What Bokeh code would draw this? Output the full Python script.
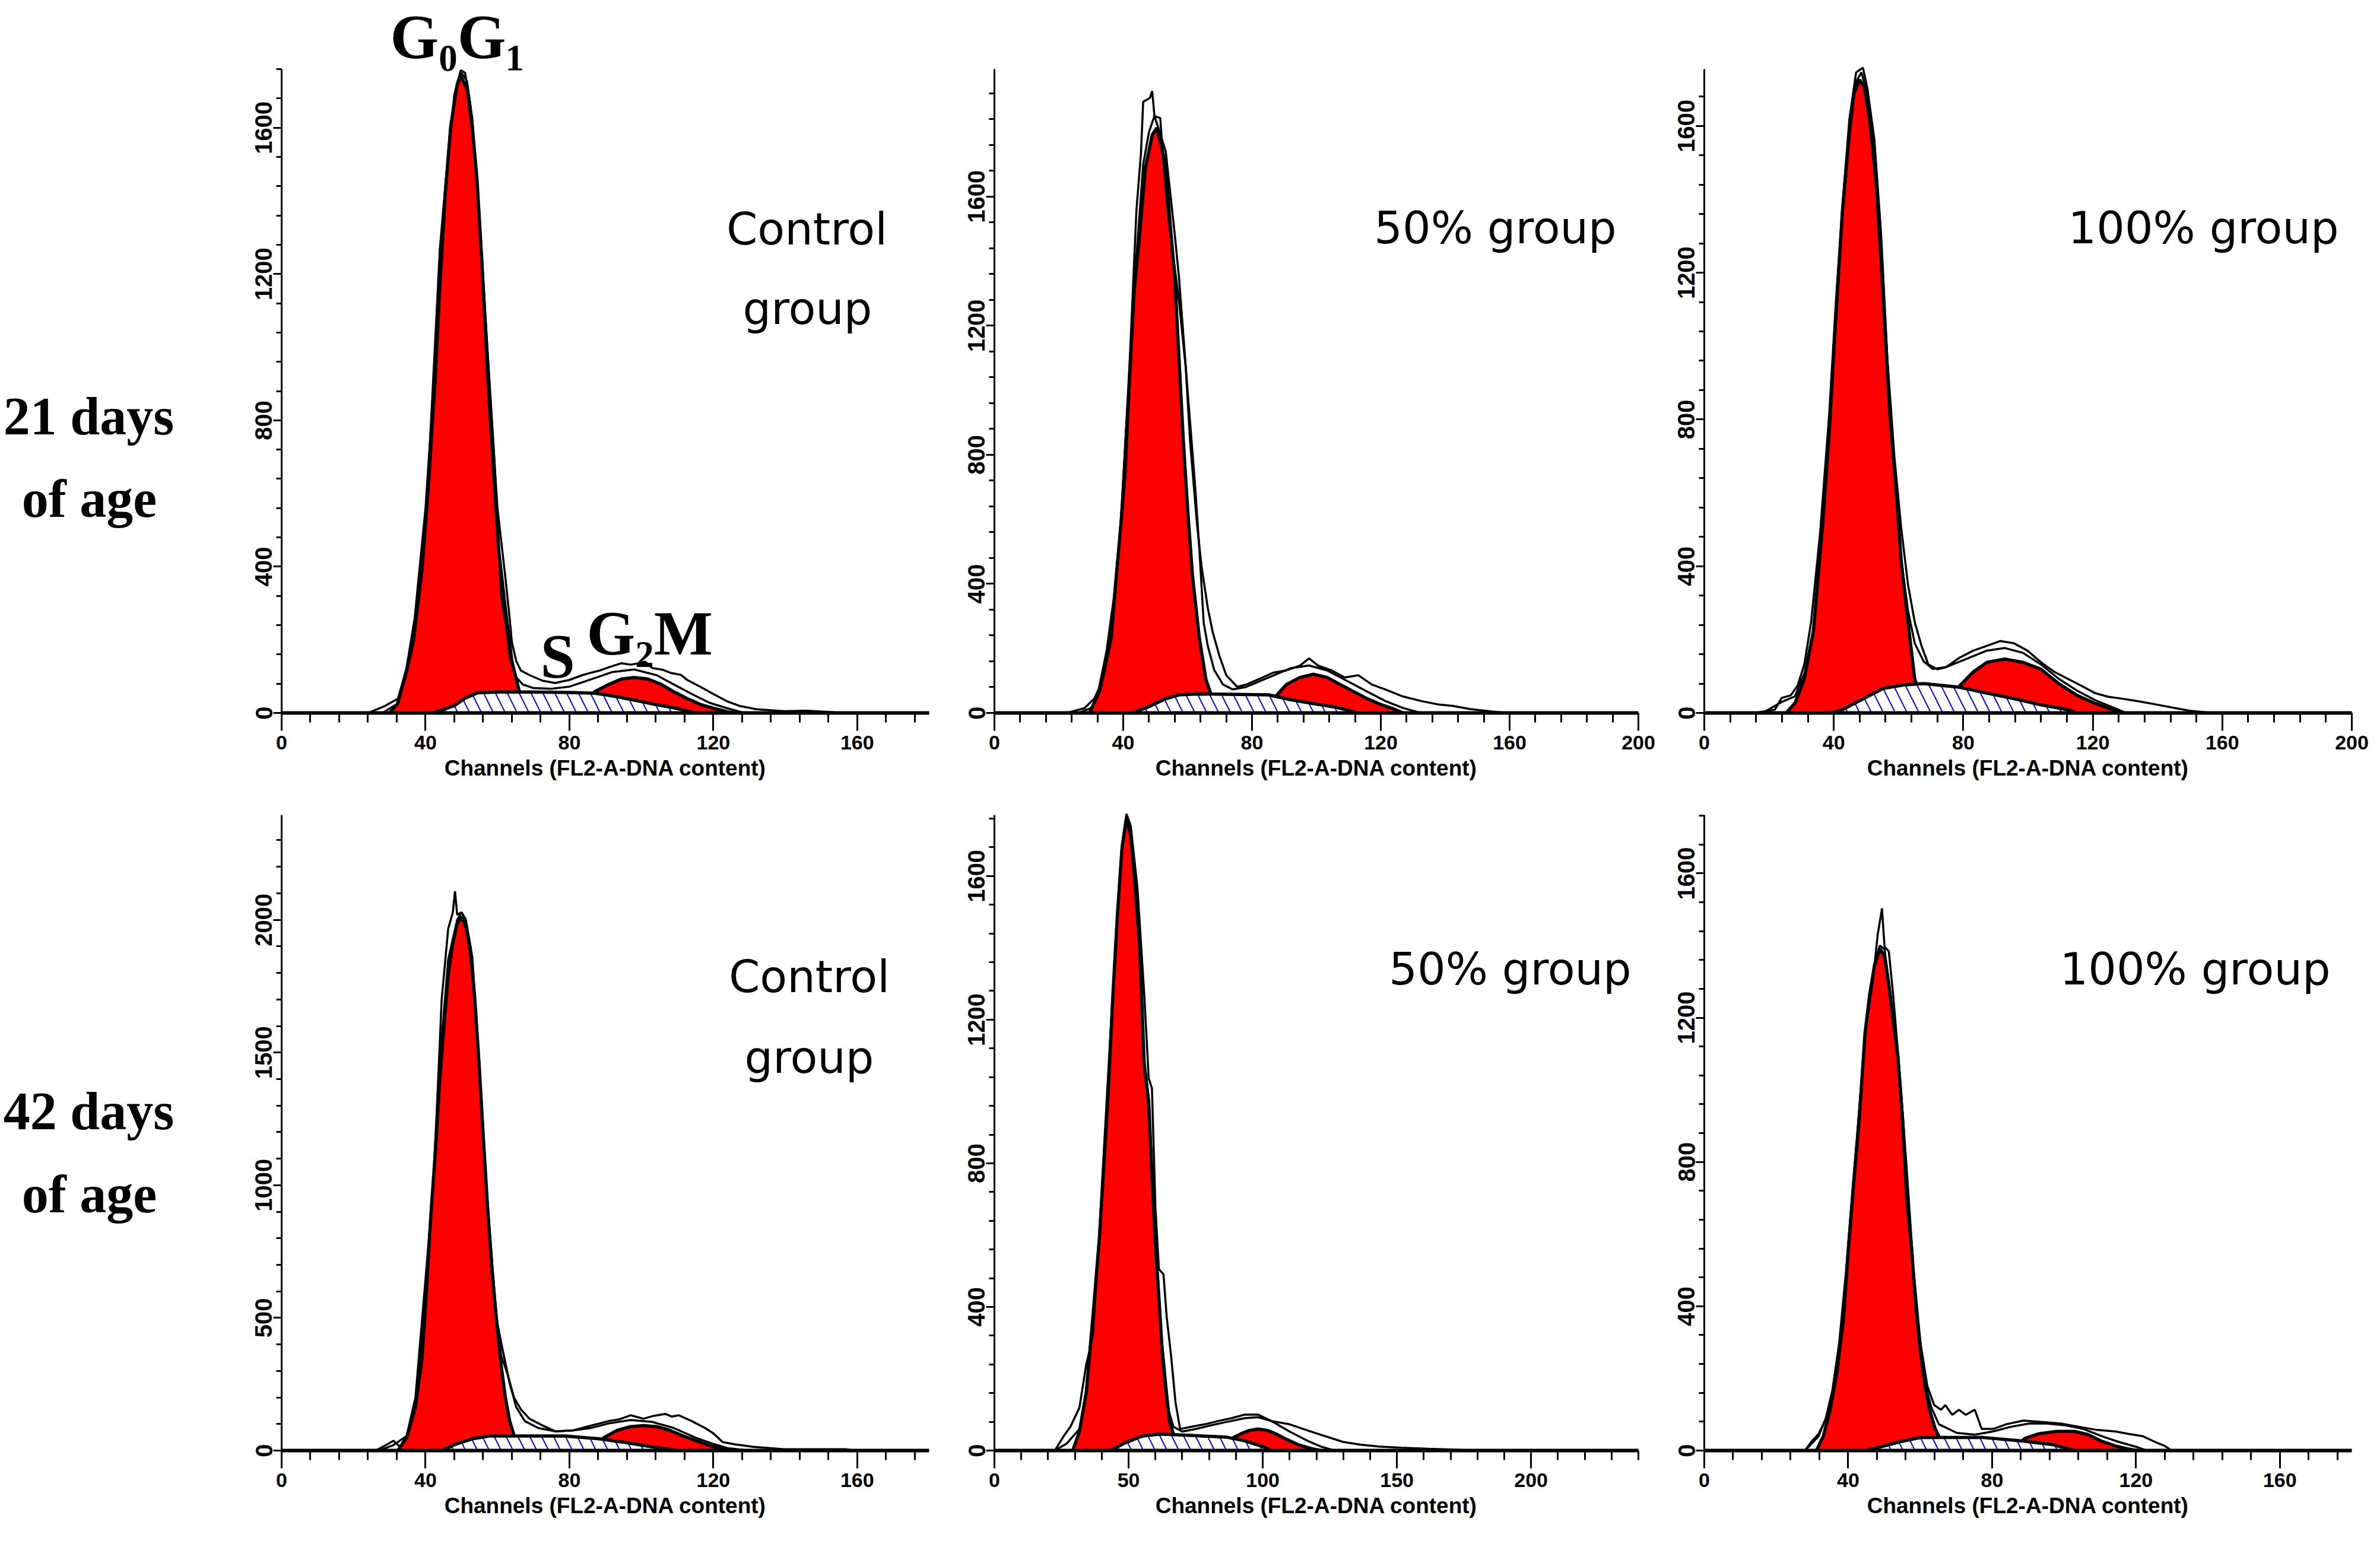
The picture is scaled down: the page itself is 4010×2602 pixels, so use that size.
from bokeh.plotting import figure
from bokeh.models import Range1d, SingleIntervalTicker
from bokeh.core.properties import value
from bokeh.layouts import column, row
from bokeh.embed import file_html
from bokeh.resources import INLINE

# ---- 21 days, control ----
p1_g1_ch = [30, 32.3, 34.8, 36.6, 39, 40.9, 42.7, 43.9, 45.5, 47, 48.8, 49.8, 51.6, 53, 54.3, 55.7, 57.3, 59.1, 60.4, 62.2, 64, 65.9, 68]
p1_g1_ct = [0, 26, 116, 194, 388, 633, 917, 1150, 1421, 1602, 1718, 1741, 1705, 1602, 1460, 1227, 917, 633, 439, 284, 142, 65, 0]
p1_s_ch = [42, 44, 48, 51, 54.5, 60, 70, 80, 87, 90, 94, 99, 104, 109, 113, 115]
p1_s_ct = [0, 6, 20, 40, 55, 57, 57, 56, 54, 50, 43, 33, 23, 14, 5, 0]
p1_g2_ch = [82, 87, 90.9, 94.5, 98, 101.8, 105.5, 109, 112.8, 116.5, 120, 124, 126]
p1_g2_ct = [0, 58, 78, 93, 97, 93, 78, 58, 39, 23, 13, 3, 0]
p1_fit_ch = [28, 32, 36, 40, 44, 47, 49, 50, 51.5, 53, 55, 57, 59.1, 61, 62.5, 63.5, 65, 67, 70, 75, 80, 86, 92, 98, 104.3, 109, 114, 118.9, 123.8, 128.6]
p1_fit_ct = [0, 24, 170, 500, 1270, 1610, 1730, 1750, 1728, 1625, 1360, 1030, 700, 320, 230, 150, 100, 78, 68, 66, 72, 92, 112, 119, 103, 78, 52, 28, 13, 0]
p1_hist_ch = [24, 28.7, 32.3, 34.5, 37, 40, 43, 45.7, 48, 49.8, 51, 52.5, 54, 56, 58, 60, 62.2, 63.4, 64, 65.2, 66.5, 69, 72.6, 76, 79.9, 83.5, 86, 88.4, 91, 94.5, 97, 99.4, 101, 103, 106, 108, 111, 112.8, 116.5, 120, 123.8, 127.4, 132, 139.6, 146, 152, 156]
p1_hist_ct = [0, 19, 39, 110, 260, 560, 1000, 1460, 1690, 1757, 1750, 1660, 1500, 1190, 860, 560, 370, 258, 194, 142, 116, 103, 88, 82, 90, 103, 110, 116, 125, 136, 132, 136, 140, 123, 118, 110, 104, 90, 71, 52, 32, 19, 10, 5, 6, 3, 0]

# ---- 21 days, 50% group ----
p2_g1_ch = [29.5, 32.3, 35, 37.2, 39.2, 40.6, 42, 43.4, 45.1, 46.9, 49, 50.4, 51.8, 53.2, 54.6, 56, 57.3, 58.7, 60.1, 61.5, 63.6, 65.7, 67, 69]
p2_g1_ct = [0, 59, 191, 352, 573, 749, 1043, 1307, 1483, 1689, 1791, 1813, 1762, 1689, 1512, 1351, 1101, 837, 617, 426, 235, 103, 66, 0]
p2_s_ch = [42.7, 47.6, 53.2, 57.3, 62.9, 85.2, 92.1, 99.1, 106, 110.2, 113]
p2_s_ct = [0, 18, 44, 56, 59, 56, 41, 29, 18, 7, 0]
p2_g2_ch = [84, 88, 90.7, 94.9, 99.1, 103.3, 107.4, 111.6, 115.8, 120, 124.1, 127]
p2_g2_ct = [0, 59, 88, 110, 120, 110, 88, 66, 44, 26, 12, 0]
p2_fit_ch = [26, 30, 33, 35, 37.2, 39.2, 42, 44, 46.2, 48, 49.7, 51, 53.2, 56, 57.3, 60.1, 62.2, 63.6, 65, 66.3, 68.3, 71, 74, 78, 85.2, 92.1, 97.7, 103.3, 108.8, 115.8, 121.4, 127, 132.5]
p2_fit_ct = [0, 15, 70, 190, 360, 590, 1060, 1400, 1700, 1800, 1850, 1810, 1740, 1483, 1351, 984, 720, 514, 279, 206, 132, 88, 73, 80, 110, 139, 147, 132, 103, 66, 37, 15, 0]
p2_hist_ch = [22.5, 28, 31, 33.7, 36.5, 39.2, 42, 44.1, 45.5, 46.2, 48.3, 49, 49.7, 51.5, 52.5, 53.9, 56, 57.3, 59.4, 60.8, 62.9, 64.3, 66.3, 67.8, 69.9, 72, 75.4, 78.2, 82.4, 86.6, 90.7, 94.9, 97.7, 100.5, 104.7, 108.8, 113, 117.2, 121.4, 126.9, 132.5, 138, 142.2, 147.8, 154.8, 160]
p2_hist_ct = [0, 15, 44, 103, 235, 573, 1087, 1557, 1733, 1894, 1906, 1927, 1850, 1843, 1703, 1542, 1380, 1278, 1072, 837, 587, 455, 323, 250, 176, 117, 81, 88, 106, 125, 132, 147, 169, 147, 132, 110, 117, 88, 73, 51, 37, 26, 22, 12, 4, 0]

# ---- 21 days, 100% group ----
p3_g1_ch = [25.3, 28.1, 30.9, 33.7, 36.5, 38.6, 40.6, 42.7, 44.8, 46.2, 48, 49.4, 51.1, 53.2, 55.3, 57.3, 59, 60.8, 62.9, 65, 65.7, 67.5]
p3_g1_ct = [0, 28, 93, 222, 506, 764, 1074, 1371, 1578, 1688, 1726, 1707, 1617, 1436, 1126, 816, 635, 416, 248, 93, 74, 0]
p3_s_ch = [39.2, 42.7, 48.3, 55.3, 62.2, 67.8, 78.9, 87.3, 95.6, 104, 112.3, 115.1]
p3_s_ct = [0, 9, 35, 67, 77, 80, 70, 54, 39, 22, 9, 0]
p3_g2_ch = [75, 78.9, 83.1, 87.3, 92.8, 98.4, 104, 109.5, 115.1, 120.7, 126.2, 129]
p3_g2_ct = [0, 74, 112, 138, 147, 138, 119, 80, 48, 26, 9, 0]
p3_fit_ch = [18, 23.9, 28, 31, 33.7, 36.5, 38.6, 40.6, 42.7, 44.8, 46.9, 48.5, 50.4, 52.5, 54.6, 56.6, 58.7, 60.8, 62.9, 65, 67.8, 70.6, 74.7, 80.3, 87.3, 92.8, 98.4, 104, 109.5, 115.1, 120.7, 126.2, 130.4]
p3_fit_ct = [0, 30, 45, 110, 230, 500, 780, 1090, 1380, 1600, 1720, 1746, 1690, 1560, 1290, 950, 661, 420, 280, 190, 140, 120, 125, 145, 170, 177, 164, 132, 93, 61, 35, 15, 0]
p3_hist_ch = [15.6, 21.8, 23.9, 26.7, 28.8, 30.9, 33, 35.8, 38.6, 40.6, 42.7, 44.8, 46.9, 49, 50.4, 52.5, 54.6, 56.6, 58.7, 60.8, 62.9, 65, 67.1, 69.2, 72, 74.7, 78.9, 83.1, 87.3, 91.4, 95.6, 99.8, 104, 108.1, 112.3, 116.5, 120.7, 124.8, 129, 134.6, 140.2, 144.4, 149.9, 156.9]
p3_hist_ct = [0, 9, 41, 48, 74, 132, 248, 493, 816, 1113, 1384, 1617, 1746, 1759, 1701, 1565, 1307, 958, 700, 506, 351, 248, 183, 132, 119, 125, 151, 170, 183, 196, 190, 170, 138, 112, 93, 74, 54, 44, 39, 31, 22, 15, 6, 0]

# ---- 42 days, control ----
p4_g1_ch = [32.3, 34.8, 37.2, 39, 40.2, 41.5, 42.7, 43.9, 45.1, 46.3, 47.6, 48.8, 50, 51.2, 52.4, 53.7, 54.9, 56.1, 57.3, 58.5, 59.8, 61, 62.2, 63.4, 64.6, 66.5]
p4_g1_ct = [0, 49, 164, 341, 588, 889, 1118, 1383, 1595, 1790, 1913, 1984, 2011, 1975, 1896, 1701, 1454, 1171, 906, 677, 482, 323, 200, 111, 58, 0]
p4_s_ch = [44.5, 48.2, 53, 57.9, 78.7, 88.4, 95.7, 103, 107.9, 110.3]
p4_s_ct = [0, 23, 44, 55, 55, 44, 30, 14, 5, 0]
p4_g2_ch = [86, 89.6, 93.3, 97, 100.6, 104.3, 107.9, 111.6, 115.2, 118.9, 122.6, 125]
p4_g2_ct = [0, 49, 76, 90, 94, 90, 76, 55, 37, 19, 5, 0]
p4_fit_ch = [27, 31, 34.8, 37.2, 40.2, 42.1, 44.5, 46.3, 48.8, 50.1, 51.2, 53, 54.9, 57.3, 59.8, 61.5, 63.4, 65.2, 67.6, 71.3, 76.2, 81.1, 86, 90.9, 97, 103, 109, 115, 119.5, 124, 130]
p4_fit_ct = [0, 20, 55, 170, 600, 1000, 1550, 1850, 2000, 2028, 1990, 1800, 1470, 920, 490, 376, 253, 164, 111, 85, 72, 76, 85, 102, 115, 108, 85, 49, 27, 9, 0]
p4_hist_ch = [26.2, 29.3, 31.1, 32.9, 34.8, 37.2, 40.2, 42.1, 43.3, 44.5, 46.3, 47.6, 48.2, 48.8, 50, 51.2, 53, 54.3, 55.5, 57.3, 59.1, 61, 62.8, 64.6, 66.5, 68.9, 72.6, 76.2, 81.1, 86, 90.9, 94, 97, 100.6, 103.5, 106.7, 108.5, 110.4, 114, 117.7, 120, 122.6, 126.2, 131.1, 139.6, 156.7, 159]
p4_hist_ct = [0, 23, 37, 14, 58, 200, 677, 995, 1330, 1701, 1966, 2028, 2108, 2019, 2028, 2002, 1860, 1595, 1313, 924, 588, 359, 288, 200, 155, 120, 94, 72, 76, 94, 111, 118, 133, 120, 131, 138, 128, 133, 111, 85, 65, 32, 23, 14, 5, 5, 0]

# ---- 42 days, 50% group ----
p5_g1_ch = [29.2, 31.7, 34.2, 36.7, 39.2, 40.8, 42.5, 44.2, 45.8, 47.5, 49.2, 50.8, 52.5, 54.2, 55.8, 57.5, 58.7, 60, 61.3, 62.5, 63.8, 65.3, 66.7, 68.5]
p5_g1_ct = [0, 53, 159, 372, 598, 797, 1009, 1275, 1487, 1673, 1760, 1713, 1567, 1394, 1076, 969, 770, 571, 425, 279, 173, 80, 46, 0]
p5_s_ch = [43.3, 48.3, 55, 61.7, 73.3, 86.7, 93.3, 100, 103.3]
p5_s_ct = [0, 20, 40, 46, 42, 37, 27, 11, 0]
p5_g2_ch = [85, 88.3, 91.7, 95, 98.3, 101.7, 105, 108.3, 113.3, 118.3, 121.7]
p5_g2_ct = [0, 33, 46, 56, 60, 56, 46, 33, 16, 5, 0]
p5_fit_ch = [22.5, 27, 31.7, 34.2, 36.7, 39.2, 42.5, 45.8, 47.5, 49.2, 50.8, 52.5, 54.2, 55.8, 57.5, 60, 62.5, 65, 66.7, 70, 75, 80, 86.7, 93.3, 98.3, 103.3, 110, 116.7, 121.7, 126.7]
p5_fit_ct = [0, 20, 60, 170, 380, 610, 1020, 1500, 1680, 1765, 1720, 1570, 1400, 1090, 980, 590, 300, 110, 66, 53, 60, 69, 80, 90, 93, 82, 53, 27, 11, 0]
p5_hist_ch = [22.5, 25.8, 28.3, 31.7, 34.2, 36.7, 38.3, 40.8, 43.3, 45.8, 47.5, 49.2, 50.8, 53.3, 55.8, 57.5, 58.7, 60, 61.3, 63, 64.2, 65.8, 67.5, 69.2, 73.3, 78.3, 83.3, 88.3, 93.3, 98.3, 103.3, 110, 116.7, 123.3, 130, 136.7, 143.3, 151.7, 161.7, 170, 180]
p5_hist_ct = [0, 40, 66, 120, 239, 319, 505, 837, 1169, 1501, 1687, 1773, 1740, 1567, 1275, 1036, 1009, 677, 505, 491, 372, 266, 133, 60, 66, 73, 82, 90, 100, 100, 82, 73, 56, 40, 24, 16, 11, 8, 5, 3, 0]

# ---- 42 days, 100% group ----
p6_g1_ch = [31.2, 33.1, 35, 36.9, 38.7, 40, 41.5, 43.1, 44.7, 46, 47.3, 48.8, 50.1, 51.3, 52.6, 53.8, 55.1, 56.3, 57.6, 58.9, 60.1, 61.4, 62.6, 64.2, 65.2, 67]
p6_g1_ct = [0, 40, 113, 219, 364, 550, 735, 921, 1159, 1265, 1344, 1391, 1371, 1291, 1185, 1093, 921, 695, 563, 391, 272, 179, 113, 60, 40, 0]
p6_s_ch = [45, 50.1, 55.1, 60.1, 77.7, 89, 96.6, 101.6, 103]
p6_s_ct = [0, 13, 26, 36, 36, 26, 17, 4, 0]
p6_g2_ch = [86, 89, 92.8, 97.9, 102.9, 106.7, 110.4, 114.2, 118, 120.5]
p6_g2_ct = [0, 33, 46, 53, 53, 44, 26, 13, 4, 0]
p6_fit_ch = [28, 31.8, 35, 38.7, 41.5, 44.7, 47.3, 48.8, 50.1, 51.3, 53.8, 56.3, 58.9, 61.4, 63.1, 65.2, 70.2, 75.2, 80.3, 85.3, 90.3, 95.3, 100.4, 105.4, 110.4, 115.5, 120.5, 123]
p6_fit_ct = [0, 40, 120, 370, 740, 1160, 1350, 1400, 1390, 1300, 1100, 700, 400, 185, 120, 73, 49, 44, 53, 66, 75, 75, 70, 60, 40, 23, 9, 0]
p6_hist_ch = [28, 29.9, 31.8, 33.7, 35.6, 37.5, 39.4, 41.3, 43.1, 45, 46.9, 48.2, 49.4, 50.1, 51.3, 52.6, 54.5, 56.4, 58.2, 60.1, 62, 63.9, 65.8, 67, 68.9, 70.8, 72.7, 75.2, 77.1, 80.3, 84, 88.7, 94.1, 99.1, 104.1, 109.2, 114.2, 118, 121.8, 125.5, 128, 129.9]
p6_hist_ct = [0, 26, 46, 86, 166, 298, 497, 735, 947, 1172, 1305, 1430, 1503, 1397, 1384, 1252, 1026, 762, 497, 298, 179, 126, 113, 126, 99, 113, 99, 113, 60, 60, 73, 83, 79, 75, 66, 57, 53, 46, 40, 23, 13, 0]

group_names = ["Control", "group", "50% group", "100% group"]
age_names = ["21 days", "of age", "42 days", "of age"]
phase_names = ["G₀G₁", "S", "G₂M"]
x_title = "Channels (FL2-A-DNA content)"

RED = "#ff0000"
BLUE = "#0000ff"
SANS = "DejaVu Sans"
SERIF = "Liberation Serif"

# page geometry (px): rows = (frame top, frame bottom, top of y axis); cols = (frame left, frame width, border left, border right)
ROWS = [(8, 1209, 124), (1345, 2452, 1381)]
COLS = [(482, 1091, 174, 37), (1683, 1085, 73, 42), (2879, 1091, 69, 30)]
SIDE_W = 300
BOTTOM = 136
LIFT = 0.26  # baseline correction, fraction of font size


def panel(r, c, x_end, axis_end, x_step, y_step, g1, s, g2, fit, hist):
    top, bot, axis_top = ROWS[r]
    left, fw, bl, br = COLS[c]
    y_end = axis_end * (bot - top) / (bot - axis_top)
    p = figure(width=bl + fw + br, height=(bot - top) + BOTTOM,
               x_range=Range1d(0, x_end), y_range=Range1d(0, y_end),
               output_backend="svg", toolbar_location=None,
               min_border_left=bl, min_border_right=br, min_border_top=0, min_border_bottom=BOTTOM)
    p.grid.visible = False
    p.outline_line_color = None

    # G0/G1 peak
    p.varea(x=g1[0], y1=0, y2=g1[1], fill_color=RED)
    p.line(g1[0], g1[1], line_color="black", line_width=5.5)
    # G2/M peak
    p.varea(x=g2[0], y1=0, y2=g2[1], fill_color=RED)
    p.line(g2[0], g2[1], line_color="black", line_width=5.5)
    # S phase, hatched
    p.varea(x=s[0], y1=0, y2=s[1], fill_color="white",
            hatch_pattern="left_diagonal_line", hatch_color=BLUE, hatch_scale=40, hatch_weight=2)
    p.line(s[0], s[1], line_color="black", line_width=5.5)
    # model fit and raw histogram
    p.line(fit[0], fit[1], line_color="black", line_width=3.5)
    p.line(hist[0], hist[1], line_color="black", line_width=3.5)

    p.xaxis.ticker = SingleIntervalTicker(interval=x_step, num_minor_ticks=5)
    p.yaxis.ticker = SingleIntervalTicker(interval=y_step, num_minor_ticks=5)
    p.yaxis.bounds = (0, axis_end)

    p.xaxis.axis_label = x_title
    p.xaxis.axis_label_text_font = "Liberation Sans"
    p.xaxis.axis_label_text_font_style = "bold"
    p.xaxis.axis_label_text_font_size = "37px"
    p.xaxis.axis_label_text_color = "black"
    p.xaxis.axis_label_standoff = 8
    p.xaxis.major_label_text_font = "Liberation Sans"
    p.xaxis.major_label_text_font_style = "bold"
    p.xaxis.major_label_text_font_size = "34px"
    p.xaxis.major_label_text_color = "black"
    p.xaxis.major_label_standoff = 8
    p.xaxis.axis_line_width = 6
    p.xaxis.major_tick_in = 0
    p.xaxis.major_tick_out = 30
    p.xaxis.minor_tick_in = 0
    p.xaxis.minor_tick_out = 16
    p.xaxis.major_tick_line_width = 3
    p.xaxis.minor_tick_line_width = 3

    p.yaxis.major_label_orientation = "vertical"
    p.yaxis.major_label_text_font = "Liberation Sans"
    p.yaxis.major_label_text_font_style = "bold"
    p.yaxis.major_label_text_font_size = "40px"
    p.yaxis.major_label_text_color = "black"
    p.yaxis.major_label_standoff = 2
    p.yaxis.axis_line_width = 3
    p.yaxis.major_tick_in = 0
    p.yaxis.major_tick_out = 14
    p.yaxis.minor_tick_in = 0
    p.yaxis.minor_tick_out = 9
    p.yaxis.major_tick_line_width = 3
    p.yaxis.minor_tick_line_width = 3

    # page px -> data coordinates, for captions
    def at(px, py, size):
        py = py - LIFT * size
        return (px - left) / fw * x_end, (bot - py) / (bot - top) * y_end
    return p, at


def side(r):
    top, bot, _ = ROWS[r]
    s = figure(width=SIDE_W, height=(bot - top) + BOTTOM,
               x_range=Range1d(8, 8 + SIDE_W), y_range=Range1d(-bot, -top),
               x_axis_type=None, y_axis_type=None, output_backend="svg", toolbar_location=None,
               min_border_left=0, min_border_right=0, min_border_top=0, min_border_bottom=BOTTOM)
    s.grid.visible = False
    s.outline_line_color = None

    def at(px, py, size):
        return px, -(py - LIFT * size)
    return s, at


def words(fig, spots, texts, font, size, style="normal", align="center"):
    p, at = fig
    xs, ys = [], []
    for px, py in spots:
        x, y = at(px, py, size)
        xs.append(x)
        ys.append(y)
    p.text(x=xs, y=ys, text=texts, text_font=value(font), text_font_size=f"{size}px",
           text_font_style=style, text_align=align, text_baseline="alphabetic", text_color="black")


s1 = side(0)
s2 = side(1)
words(s1, [(157, 732), (158, 871)], age_names[0:2], SERIF, 90, "bold")
words(s2, [(157, 1903), (158, 2043)], age_names[2:4], SERIF, 90, "bold")

p1 = panel(0, 0, 180, 1760, 40, 400,
           (p1_g1_ch, p1_g1_ct), (p1_s_ch, p1_s_ct), (p1_g2_ch, p1_g2_ct), (p1_fit_ch, p1_fit_ct), (p1_hist_ch, p1_hist_ct))
p2 = panel(0, 1, 200, 1995, 40, 400,
           (p2_g1_ch, p2_g1_ct), (p2_s_ch, p2_s_ct), (p2_g2_ch, p2_g2_ct), (p2_fit_ch, p2_fit_ct), (p2_hist_ch, p2_hist_ct))
p3 = panel(0, 2, 200, 1755, 40, 400,
           (p3_g1_ch, p3_g1_ct), (p3_s_ch, p3_s_ct), (p3_g2_ch, p3_g2_ct), (p3_fit_ch, p3_fit_ct), (p3_hist_ch, p3_hist_ct))
p4 = panel(1, 0, 180, 2395, 40, 500,
           (p4_g1_ch, p4_g1_ct), (p4_s_ch, p4_s_ct), (p4_g2_ch, p4_g2_ct), (p4_fit_ch, p4_fit_ct), (p4_hist_ch, p4_hist_ct))
p5 = panel(1, 1, 240, 1770, 50, 400,
           (p5_g1_ch, p5_g1_ct), (p5_s_ch, p5_s_ct), (p5_g2_ch, p5_g2_ct), (p5_fit_ch, p5_fit_ct), (p5_hist_ch, p5_hist_ct))
p6 = panel(1, 2, 180, 1762, 40, 400,
           (p6_g1_ch, p6_g1_ct), (p6_s_ch, p6_s_ct), (p6_g2_ch, p6_g2_ct), (p6_fit_ch, p6_fit_ct), (p6_hist_ch, p6_hist_ct))

# group names
words(p1, [(1367, 413), (1368, 547)], group_names[0:2], SANS, 75)
words(p2, [(2527, 411)], [group_names[2]], SANS, 75)
words(p3, [(3720, 411)], [group_names[3]], SANS, 75)
words(p4, [(1371, 1673), (1371, 1809)], group_names[0:2], SANS, 75)
words(p5, [(2552, 1660)], [group_names[2]], SANS, 75)
words(p6, [(3706, 1660)], [group_names[3]], SANS, 75)

# phase captions on the first panel
words(p1, [(665, 97), (918, 1141), (996, 1102)], phase_names, SERIF, 105, "bold", "left")

layout = column(row(s1[0], p1[0], p2[0], p3[0]), row(s2[0], p4[0], p5[0], p6[0]))
open("out.html", "w").write(file_html(layout, INLINE))
